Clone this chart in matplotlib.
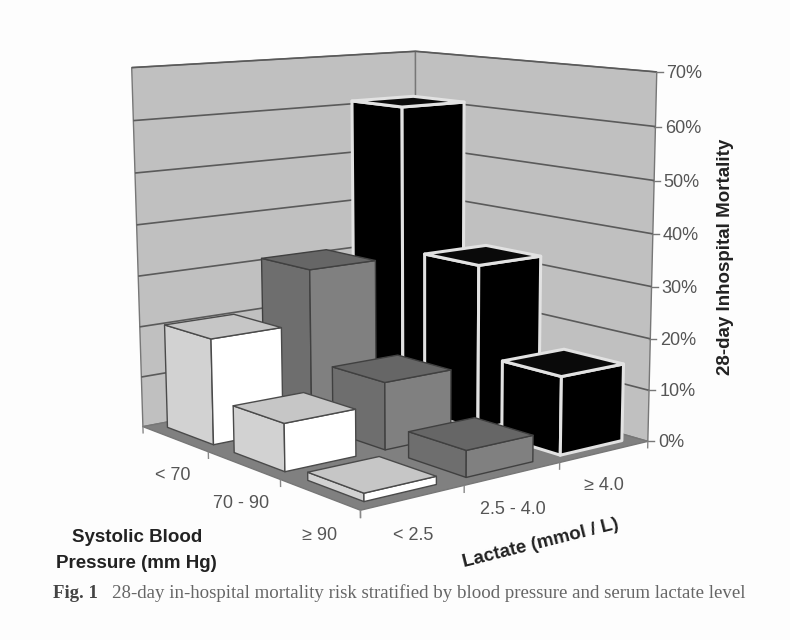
import numpy as np
import matplotlib
matplotlib.use("Agg")
import matplotlib.pyplot as plt
from matplotlib.patches import Polygon

# ---------- data ----------
lactate_labels = ["< 2.5", "2.5 - 4.0", "≥ 4.0"]
pressure_labels = ["< 70", "70 - 90", "≥ 90"]
z_ticks = [0, 10, 20, 30, 40, 50, 60, 70]
mort_lt70 = [20.5, 31, 61]
mort_70_90 = [9, 13, 32.5]
mort_ge90 = [1.5, 5, 15]
mortality = [mort_lt70, mort_70_90, mort_ge90]

# ---------- camera fitted from the frame corners (x=lactate, y=pressure, z=%) ----------
world = [(0, 0, 0), (3, 0, 0), (3, 3, 0), (0, 3, 0), (0, 0, 70), (3, 0, 70), (3, 3, 70)]
screen = [(143, 423), (416, 379), (648, 437), (360, 514), (132, 68), (415, 50), (657, 73)]
A, b = [], []
for (X, Y, Z), (u, v) in zip(world, screen):
    A.append([X, Y, Z, 1, 0, 0, 0, 0, -u * X, -u * Y, -u * Z]); b.append(u)
    A.append([0, 0, 0, 0, X, Y, Z, 1, -v * X, -v * Y, -v * Z]); b.append(v)
P = np.append(np.linalg.lstsq(np.array(A, float), np.array(b, float), rcond=None)[0], 1).reshape(3, 4)

def proj(x, y, z):
    h = P @ np.array([x, y, z, 1.0])
    return h[0] / h[2], h[1] / h[2]

fig = plt.figure(figsize=(7.9, 6.4), dpi=100, facecolor="#fdfdfd")
ax = fig.add_axes([0, 0, 1, 1])
ax.set_xlim(0, 790); ax.set_ylim(640, 0); ax.axis("off")

EDGE = "#4a4a4a"
def face(pts, fc, ec=EDGE, lw=1.0, z=2):
    ax.add_patch(Polygon([proj(*p) for p in pts], closed=True, fc=fc, ec=ec, lw=lw, joinstyle="round", zorder=z))
def line(a, b, c="#555555", lw=1.0, z=2):
    pa, pb = proj(*a), proj(*b)
    ax.plot([pa[0], pb[0]], [pa[1], pb[1]], color=c, lw=lw, zorder=z, solid_capstyle="butt")

# walls and floor
face([(0, 0, 0), (3, 0, 0), (3, 0, 70), (0, 0, 70)], "#c0c0c0", "#777777")
face([(3, 0, 0), (3, 3, 0), (3, 3, 70), (3, 0, 70)], "#c0c0c0", "#777777")
face([(0, 0, 0), (3, 0, 0), (3, 3, 0), (0, 3, 0)], "#808080", "#777777")
for t in z_ticks[1:]:
    line((0, 0, t), (3, 0, t), "#5a5a5a", 1.2)
    line((3, 0, t), (3, 3, t), "#5a5a5a", 1.2)
for t in z_ticks:
    u, v = proj(3, 3, t)
    ax.plot([u - 1, u + 6], [v, v], color="#777777", lw=1, zorder=2)
    ax.text(u + 9 + (70 - t) * 0.02, v + 1.5, f"{t}%", fontsize=13, color="#555555",
            family="Liberation Sans", va="center", ha="left")
for k in range(4):
    line((k, 3, 0), (k, 3, -1.4), "#888888", 1.0)
    line((0, k, 0), (0, k, -1.4), "#888888", 1.0)

# bars, back to front
GAP = 0.15
styles = [("#d2d2d2", "#ffffff", "#c6c6c6", EDGE, 1.0),
          ("#6e6e6e", "#808080", "#666666", "#404040", 1.0),
          ("#000000", "#000000", "#0a0a0a", "#e2e2e2", 2.2)]
order = sorted(((r, c) for r in range(3) for c in range(3)), key=lambda rc: (rc[0], -rc[1]))
for n, (r, c) in enumerate(order):
    h = mortality[r][c]
    x0, x1, y0, y1 = c + GAP, c + 1 - GAP, r + GAP, r + 1 - GAP
    left, right, top, ec, lw = styles[c]
    zo = 3 + n * 0.01
    face([(x0, y0, 0), (x0, y1, 0), (x0, y1, h), (x0, y0, h)], left, ec, lw, zo)
    face([(x0, y1, 0), (x1, y1, 0), (x1, y1, h), (x0, y1, h)], right, ec, lw, zo)
    face([(x0, y0, h), (x1, y0, h), (x1, y1, h), (x0, y1, h)], top, ec, lw, zo)

# category and axis labels
lab = dict(fontsize=13, color="#555555", family="Liberation Sans", ha="center", va="center")
for (u, v), s in zip([(173, 475), (241, 503), (320, 536)], pressure_labels):
    ax.text(u, v, s, **lab)
for (u, v), s in zip([(413, 535), (513, 509), (604, 485)], lactate_labels):
    ax.text(u, v, s, **lab)
ttl = dict(fontsize=13.5, color="#222222", family="Liberation Sans", fontweight="bold", ha="center", va="center")
ax.text(726, 257, "28-day Inhospital Mortality", rotation=90, **ttl)
ax.text(137, 538, "Systolic Blood", **ttl)
ax.text(136, 563, "Pressure (mm Hg)", **ttl)
ax.text(541, 543, "Lactate (mmol / L)", rotation=14, rotation_mode="anchor", **ttl)

# caption
ax.text(53, 593, "Fig. 1", fontsize=13.5, color="#444444", family="Liberation Serif", fontweight="bold", va="center")
ax.text(112, 593, "28-day in-hospital mortality risk stratified by blood pressure and serum lactate level",
        fontsize=13.6, color="#666666", family="Liberation Serif", va="center")

fig.savefig("out.png", dpi=100, facecolor=fig.get_facecolor())
